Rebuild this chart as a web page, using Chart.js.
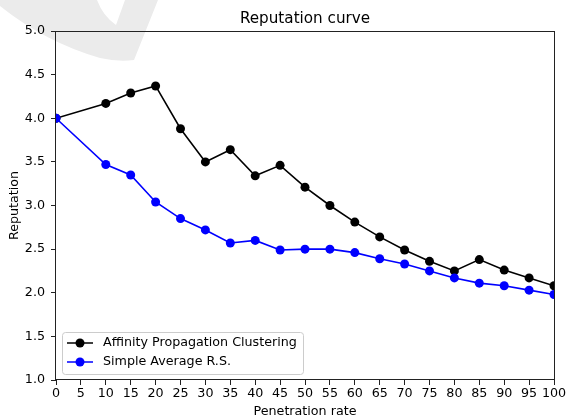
<!DOCTYPE html>
<html>
<head>
<meta charset="utf-8">
<script src="https://cdn.jsdelivr.net/npm/chart.js@4/dist/chart.umd.min.js"></script>
<style>
  html, body { margin: 0; padding: 0; background: #ffffff; }
  #wrap { width: 572px; height: 416px; }
</style>
</head>
<body>
<div id="wrap"><canvas id="chart" width="572" height="416"></canvas></div>
<script>
// Penetration rate (%) at which reputation was measured
const penetrationRates = [0, 10, 15, 20, 25, 30, 35, 40, 45, 50, 55, 60, 65, 70, 75, 80, 85, 90, 95, 100];

// Reputation values per method
const affinityClustering = [4.00, 4.17, 4.29, 4.37, 3.88, 3.50, 3.64, 3.34, 3.46, 3.21, 3.00, 2.81, 2.64, 2.49, 2.36, 2.25, 2.38, 2.26, 2.17, 2.08];
const simpleAverage = [4.00, 3.47, 3.35, 3.04, 2.85, 2.72, 2.57, 2.60, 2.49, 2.50, 2.50, 2.46, 2.39, 2.33, 2.25, 2.17, 2.11, 2.08, 2.03, 1.98];

// Axis ticks
const xTicks = [0, 5, 10, 15, 20, 25, 30, 35, 40, 45, 50, 55, 60, 65, 70, 75, 80, 85, 90, 95, 100];
const yTicks = [1.0, 1.5, 2.0, 2.5, 3.0, 3.5, 4.0, 4.5, 5.0];

const seriesLabels = ['Affinity Propagation Clustering', 'Simple Average R.S.'];
const seriesColors = ['#000000', '#0000ff'];

const FONT = "'DejaVu Sans', 'Liberation Sans', sans-serif";
const SMALL = 12.7;
const LARGE = 15.2;

function toPoints(xs, ys) {
  return xs.map((x, i) => ({ x: x, y: ys[i] }));
}

// Faint logo mark in the upper-left corner
const watermark = {
  id: 'watermark',
  beforeDraw(chart) {
    const ctx = chart.ctx;
    ctx.save();
    ctx.fillStyle = '#ebebeb';
    ctx.beginPath();
    ctx.moveTo(0, 0);
    ctx.lineTo(0, 6);
    ctx.quadraticCurveTo(45, 42, 100, 58);
    ctx.quadraticCurveTo(118, 62, 134, 60);
    ctx.lineTo(158, 0);
    ctx.lineTo(125, 0);
    ctx.lineTo(116, 25);
    ctx.quadraticCurveTo(103, 16, 97, 0);
    ctx.closePath();
    ctx.fill();
    ctx.restore();
  }
};

// Full frame round the plotting area
const frame = {
  id: 'frame',
  afterDraw(chart) {
    const a = chart.chartArea;
    const ctx = chart.ctx;
    ctx.save();
    ctx.strokeStyle = '#222222';
    ctx.lineWidth = 1;
    ctx.strokeRect(Math.round(a.left) - 0.5, Math.round(a.top) + 0.5,
                   Math.round(a.right - a.left) + 1, Math.round(a.bottom - a.top) - 1);
    ctx.restore();
  }
};

// Legend box in the lower-left corner of the plot
const innerLegend = {
  id: 'innerLegend',
  afterDraw(chart) {
    const a = chart.chartArea;
    const ctx = chart.ctx;
    const bx = a.left + 6, bw = 241, bh = 42;
    const by = a.bottom - 6 - bh;
    ctx.save();
    ctx.beginPath();
    ctx.roundRect(bx + 0.5, by + 0.5, bw, bh, 3);
    ctx.fillStyle = 'rgba(255,255,255,0.85)';
    ctx.fill();
    ctx.strokeStyle = '#cccccc';
    ctx.lineWidth = 1;
    ctx.stroke();
    const rows = [by + 11, by + 30];
    ctx.font = SMALL + 'px ' + FONT;
    ctx.textBaseline = 'middle';
    ctx.textAlign = 'left';
    seriesLabels.forEach((label, i) => {
      const y = rows[i];
      ctx.strokeStyle = seriesColors[i];
      ctx.lineWidth = 1.5;
      ctx.beginPath();
      ctx.moveTo(bx + 5, y);
      ctx.lineTo(bx + 31, y);
      ctx.stroke();
      ctx.fillStyle = seriesColors[i];
      ctx.beginPath();
      ctx.arc(bx + 18, y, 4.5, 0, Math.PI * 2);
      ctx.fill();
      ctx.fillStyle = '#000000';
      ctx.fillText(label, bx + 41, y);
    });
    ctx.restore();
  }
};

new Chart(document.getElementById('chart'), {
  type: 'line',
  data: {
    datasets: [
      {
        label: seriesLabels[0],
        data: toPoints(penetrationRates, affinityClustering),
        borderColor: seriesColors[0],
        backgroundColor: seriesColors[0],
        pointBackgroundColor: seriesColors[0],
        pointBorderColor: seriesColors[0],
        borderWidth: 1.6,
        pointRadius: 4.5,
        pointBorderWidth: 0,
        tension: 0,
        clip: 0,
        order: 2
      },
      {
        label: seriesLabels[1],
        data: toPoints(penetrationRates, simpleAverage),
        borderColor: seriesColors[1],
        backgroundColor: seriesColors[1],
        pointBackgroundColor: seriesColors[1],
        pointBorderColor: seriesColors[1],
        borderWidth: 1.6,
        pointRadius: 4.5,
        pointBorderWidth: 0,
        tension: 0,
        clip: 0,
        order: 1
      }
    ]
  },
  options: {
    responsive: false,
    animation: false,
    devicePixelRatio: 1,
    layout: { padding: { left: 0, right: 18, top: 0, bottom: 0 } },
    plugins: {
      legend: { display: false },
      tooltip: { enabled: false },
      title: {
        display: true,
        text: 'Reputation curve',
        fullSize: false,
        color: '#000000',
        font: { family: FONT, size: LARGE, weight: 'normal', lineHeight: 1.2 },
        padding: { top: 10.4, bottom: 2.36 }
      }
    },
    scales: {
      x: {
        type: 'linear',
        min: 0,
        max: 100,
        afterBuildTicks(scale) { scale.ticks = xTicks.map(v => ({ value: v })); },
        afterFit(scale) { scale.height = 36; },
        ticks: {
          autoSkip: false,
          maxRotation: 0,
          padding: 1,
          color: '#000000',
          font: { family: FONT, size: SMALL },
          callback: v => String(v)
        },
        grid: { drawOnChartArea: false, drawTicks: true, tickLength: 5, tickColor: '#222222' },
        border: { display: false },
        title: {
          display: true,
          text: 'Penetration rate',
          color: '#000000',
          font: { family: FONT, size: SMALL, lineHeight: 1.0 },
          padding: { top: 0, bottom: -2.35 }
        }
      },
      y: {
        type: 'linear',
        min: 1,
        max: 5,
        afterBuildTicks(scale) { scale.ticks = yTicks.map(v => ({ value: v })); },
        afterFit(scale) { scale.width = 56; },
        ticks: {
          padding: 6,
          color: '#000000',
          font: { family: FONT, size: SMALL },
          callback: v => Number(v).toFixed(1)
        },
        grid: { drawOnChartArea: false, drawTicks: true, tickLength: 5, tickColor: '#222222' },
        border: { display: false },
        title: {
          display: true,
          text: 'Reputation',
          color: '#000000',
          font: { family: FONT, size: SMALL, lineHeight: 1.0 },
          padding: { top: 8.65, bottom: 0 }
        }
      }
    }
  },
  plugins: [watermark, frame, innerLegend]
});
</script>
</body>
</html>
